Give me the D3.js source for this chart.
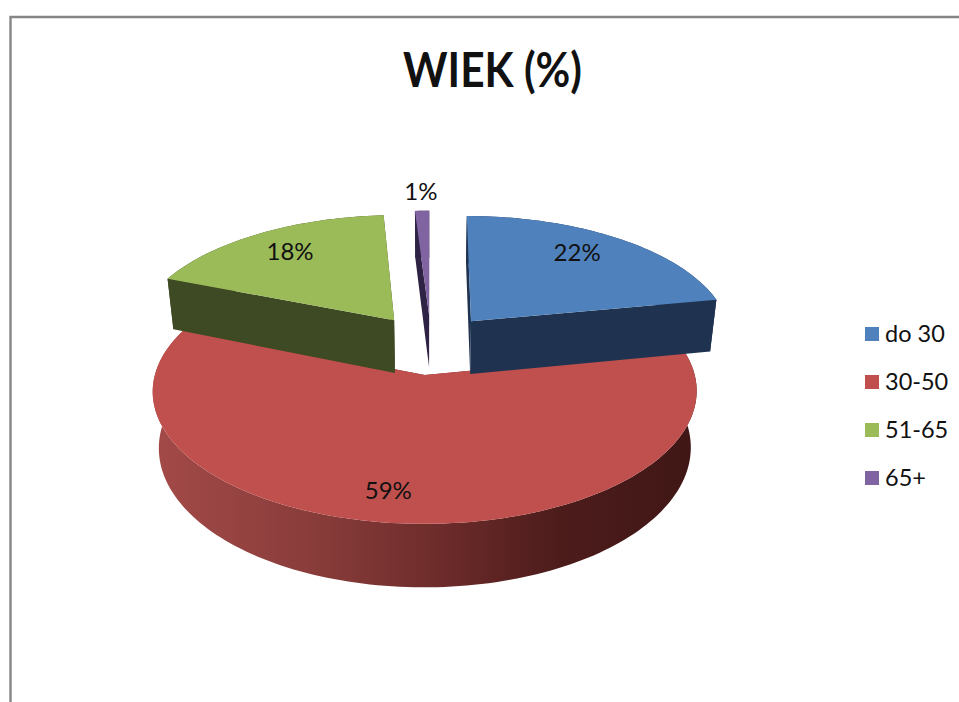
<!DOCTYPE html>
<html>
<head>
<meta charset="utf-8">
<style>
  html, body { margin: 0; padding: 0; background: #fff; }
  svg { display: block; }
  text { font-family: Lato, "Open Sans", sans-serif; fill: #111; }
</style>
<script src="https://cdn.jsdelivr.net/npm/d3@7"></script>
</head>
<body>
<div id="chart"></div>
<script>
// chart data
const categories = ["do 30", "30-50", "51-65", "65+"];
const shares = [22, 59, 18, 1];
const shareLabels = ["22%", "59%", "18%", "1%"];
const chartTitle = "WIEK (%)";

// colours
const topColors = ["#4F81BD", "#C0504D", "#9BBB59", "#8064A2"];
const wallColors = ["#1F3350", "url(#redWall)", "#3E4A23", "#2E2344"];

// set svg parameters
const width = 959,
      height = 702;
const svg = d3.select("#chart")
  .append("svg")
    .attr("width", width)
    .attr("height", height)
    .attr("viewBox", `0 0 ${width} ${height}`);

// frame of the chart area, only top and left are in the picture
svg.append("path")
  .attr("d", `M10.5,${height}V17H${width}`)
  .attr("fill", "none")
  .attr("stroke", "#868686")
  .attr("stroke-width", 2.4);

// tilted disc: u,v are disc coordinates (radius 1), h is 0 on top and 1 at the bottom
const cx = 431, cy = 344, radiusX = 262, radiusY = 123, depth = 54;
const perspective = 0.12, bottomShrink = 0.022, explode = 0.245;

function project(u, v, h) {
  const s = 1 / (1 - perspective * v);
  return [
    cx + radiusX * u * s * (1 - bottomShrink * h),
    cy + (radiusY * v + depth * h) * s
  ];
}

const line = d3.line();

const pie = d3.pie().sort(null).value(d => d);
const slices = pie(shares);

// points along the rim of a slice, in disc coordinates
function rim(d, offset) {
  const n = Math.max(2, Math.ceil((d.endAngle - d.startAngle) * 40));
  return d3.range(n + 1).map(i => {
    const a = d.startAngle + (d.endAngle - d.startAngle) * i / n;
    return [offset[0] + Math.sin(a), offset[1] - Math.cos(a)];
  });
}

function sliceOffset(d) {
  const mid = (d.startAngle + d.endAngle) / 2;
  return [explode * Math.sin(mid), -explode * Math.cos(mid)];
}

// shading of the long red wall
const defs = svg.append("defs");
const redWall = defs.append("linearGradient")
  .attr("id", "redWall")
  .attr("gradientUnits", "userSpaceOnUse")
  .attr("x1", 155).attr("x2", 695)
  .attr("y1", 0).attr("y2", 0);
redWall.selectAll("stop")
  .data([[0, "#A34A48"], [0.3, "#883C3A"], [0.55, "#6A2A29"], [0.75, "#4C1C1B"], [1, "#401716"]])
  .join("stop")
    .attr("offset", d => d[0])
    .attr("stop-color", d => d[1]);

// red goes first, the other slices lie over it
const drawOrder = [1, 2, 0, 3];
const sliceGroups = svg.append("g")
  .selectAll("g")
  .data(drawOrder.map(i => slices[i]))
  .join("g");

sliceGroups.each(function(d) {
  const g = d3.select(this);
  const offset = sliceOffset(d);
  const pts = rim(d, offset);
  const wall = wallColors[d.index];

  // outer wall
  const outer = pts.map(p => project(p[0], p[1], 0))
    .concat(pts.slice().reverse().map(p => project(p[0], p[1], 1)));
  g.append("path")
    .attr("d", line(outer) + "Z")
    .attr("fill", wall);

  // the two cut walls
  [pts[0], pts[pts.length - 1]].forEach(p => {
    const cut = [
      project(offset[0], offset[1], 0),
      project(p[0], p[1], 0),
      project(p[0], p[1], 1),
      project(offset[0], offset[1], 1)
    ];
    g.append("path")
      .attr("d", line(cut) + "Z")
      .attr("fill", wall);
  });

  // top face
  const top = [project(offset[0], offset[1], 0)]
    .concat(pts.map(p => project(p[0], p[1], 0)));
  g.append("path")
    .attr("d", line(top) + "Z")
    .attr("fill", topColors[d.index]);
});

// value labels
const labelRadius = [0.8, 0.81, 0.76, 1.19];
const labelNudge = [-13, -13, 0, 0];

svg.append("g")
  .selectAll("text")
  .data(slices)
  .join("text")
    .attr("text-anchor", "middle")
    .attr("font-size", 24)
    .attr("transform", d => {
      const offset = sliceOffset(d);
      const mid = (d.startAngle + d.endAngle) / 2;
      const r = labelRadius[d.index];
      const p = project(offset[0] + r * Math.sin(mid), offset[1] - r * Math.cos(mid), 0);
      return `translate(${p[0] + labelNudge[d.index]},${p[1] + 7})`;
    })
    .text(d => shareLabels[d.index]);

// title
svg.append("text")
  .attr("x", 403)
  .attr("y", 87)
  .attr("font-size", 47)
  .attr("font-weight", 700)
  .attr("textLength", 179)
  .attr("lengthAdjust", "spacingAndGlyphs")
  .text(chartTitle);

// legend
const legendY = d3.scalePoint()
  .domain(categories)
  .range([334, 478]);
const colorScale = d3.scaleOrdinal()
  .domain(categories)
  .range(topColors);

const legend = svg.append("g")
  .selectAll("g")
  .data(categories)
  .join("g")
    .attr("transform", d => `translate(865,${legendY(d)})`);

legend.append("rect")
  .attr("y", -7)
  .attr("width", 14)
  .attr("height", 14)
  .attr("fill", d => colorScale(d));

legend.append("text")
  .attr("x", 20)
  .attr("y", 8)
  .attr("font-size", 23.5)
  .text(d => d);
</script>
</body>
</html>
